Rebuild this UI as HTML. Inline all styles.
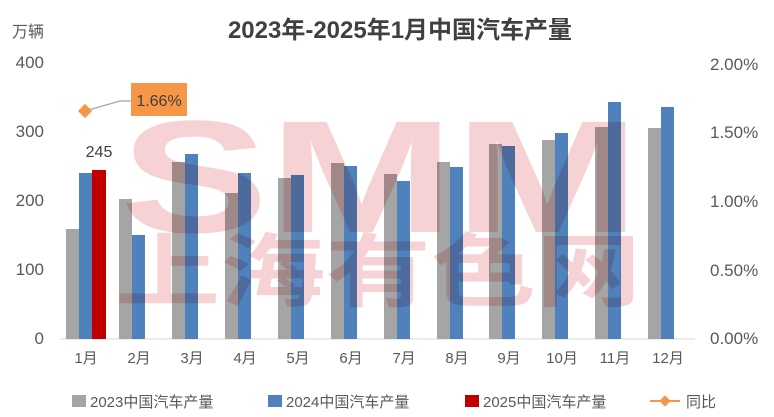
<!DOCTYPE html>
<html><head><meta charset="utf-8"><style>
body{margin:0;background:#fff;}
svg{display:block;font-family:"Liberation Sans","Noto Sans CJK SC",sans-serif;}
</style></head><body>
<svg width="774" height="417" viewBox="0 0 774 417" xmlns="http://www.w3.org/2000/svg">
<rect width="774" height="417" fill="#fff"/>
<text x="400" y="38" text-anchor="middle" font-size="24" font-weight="bold" fill="#404040">2023年-2025年1月中国汽车产量</text>
<text x="12" y="37" font-size="16" fill="#595959">万辆</text>
<g font-size="17" fill="#595959" text-anchor="end">
<text x="44" y="68">400</text><text x="44" y="137">300</text><text x="44" y="206">200</text><text x="44" y="275">100</text><text x="44" y="344">0</text>
</g>
<g font-size="17" fill="#595959" text-anchor="start">
<text x="710" y="70">2.00%</text><text x="710" y="138">1.50%</text><text x="710" y="207">1.00%</text><text x="710" y="276">0.50%</text><text x="710" y="344">0.00%</text>
</g>
<line x1="60" y1="339" x2="695" y2="339" stroke="#d9d9d9" stroke-width="1"/>
<g fill="#a5a5a5">
<rect x="66" y="229" width="13" height="110"/>
<rect x="119" y="199" width="13" height="140"/>
<rect x="172" y="162" width="13" height="177"/>
<rect x="225" y="193" width="13" height="146"/>
<rect x="278" y="178" width="13" height="161"/>
<rect x="331" y="163" width="13" height="176"/>
<rect x="384" y="174" width="13" height="165"/>
<rect x="437" y="162" width="13" height="177"/>
<rect x="489" y="144" width="13" height="195"/>
<rect x="542" y="140" width="13" height="199"/>
<rect x="595" y="127" width="13" height="212"/>
<rect x="648" y="128" width="13" height="211"/>
</g>
<g fill="#4f81bd">
<rect x="79" y="173" width="13" height="166"/>
<rect x="132" y="235" width="13" height="104"/>
<rect x="185" y="154" width="13" height="185"/>
<rect x="238" y="173" width="13" height="166"/>
<rect x="291" y="175" width="13" height="164"/>
<rect x="344" y="166" width="13" height="173"/>
<rect x="397" y="181" width="13" height="158"/>
<rect x="450" y="167" width="13" height="172"/>
<rect x="502" y="146" width="13" height="193"/>
<rect x="555" y="133" width="13" height="206"/>
<rect x="608" y="102" width="13" height="237"/>
<rect x="661" y="107" width="13" height="232"/>
</g>
<rect x="92" y="170" width="14" height="169" fill="#c00000"/>
<g opacity="0.22" fill="#d9303a" style="mix-blend-mode:multiply">
<text x="380" y="232" text-anchor="middle" font-size="160" font-weight="bold" textLength="520" lengthAdjust="spacingAndGlyphs">SMM</text>
<text x="378" y="300" text-anchor="middle" font-size="80" font-weight="bold" textLength="526" lengthAdjust="spacingAndGlyphs">上海有色网</text>
</g>
<text x="99" y="157" text-anchor="middle" font-size="16" fill="#404040">245</text>
<polyline points="85,111 120,101 131,101" fill="none" stroke="#a5a5a5" stroke-width="1.2"/>
<rect x="80" y="106" width="10" height="10" fill="#f79646" transform="rotate(45 85 111)"/>
<rect x="131" y="83" width="56" height="33" fill="#f79646"/>
<text x="159" y="106" text-anchor="middle" font-size="16" fill="#404040">1.66%</text>
<g font-size="15" fill="#595959" text-anchor="middle">
<text x="86" y="363">1月</text><text x="139" y="363">2月</text><text x="192" y="363">3月</text><text x="245" y="363">4月</text>
<text x="298" y="363">5月</text><text x="351" y="363">6月</text><text x="404" y="363">7月</text><text x="457" y="363">8月</text>
<text x="509" y="363">9月</text><text x="562" y="363">10月</text><text x="615" y="363">11月</text><text x="668" y="363">12月</text>
</g>
<g font-size="15" fill="#595959">
<rect x="72" y="395" width="14" height="12" fill="#a5a5a5"/><text x="90" y="407">2023中国汽车产量</text>
<rect x="268" y="395" width="14" height="12" fill="#4f81bd"/><text x="286" y="407">2024中国汽车产量</text>
<rect x="465" y="395" width="14" height="12" fill="#c00000"/><text x="483" y="407">2025中国汽车产量</text>
<line x1="650" y1="401" x2="680" y2="401" stroke="#f79646" stroke-width="2"/>
<rect x="661" y="397" width="8" height="8" fill="#f79646" transform="rotate(45 665 401)"/>
<text x="686" y="407">同比</text>
</g>
</svg>
</body></html>
